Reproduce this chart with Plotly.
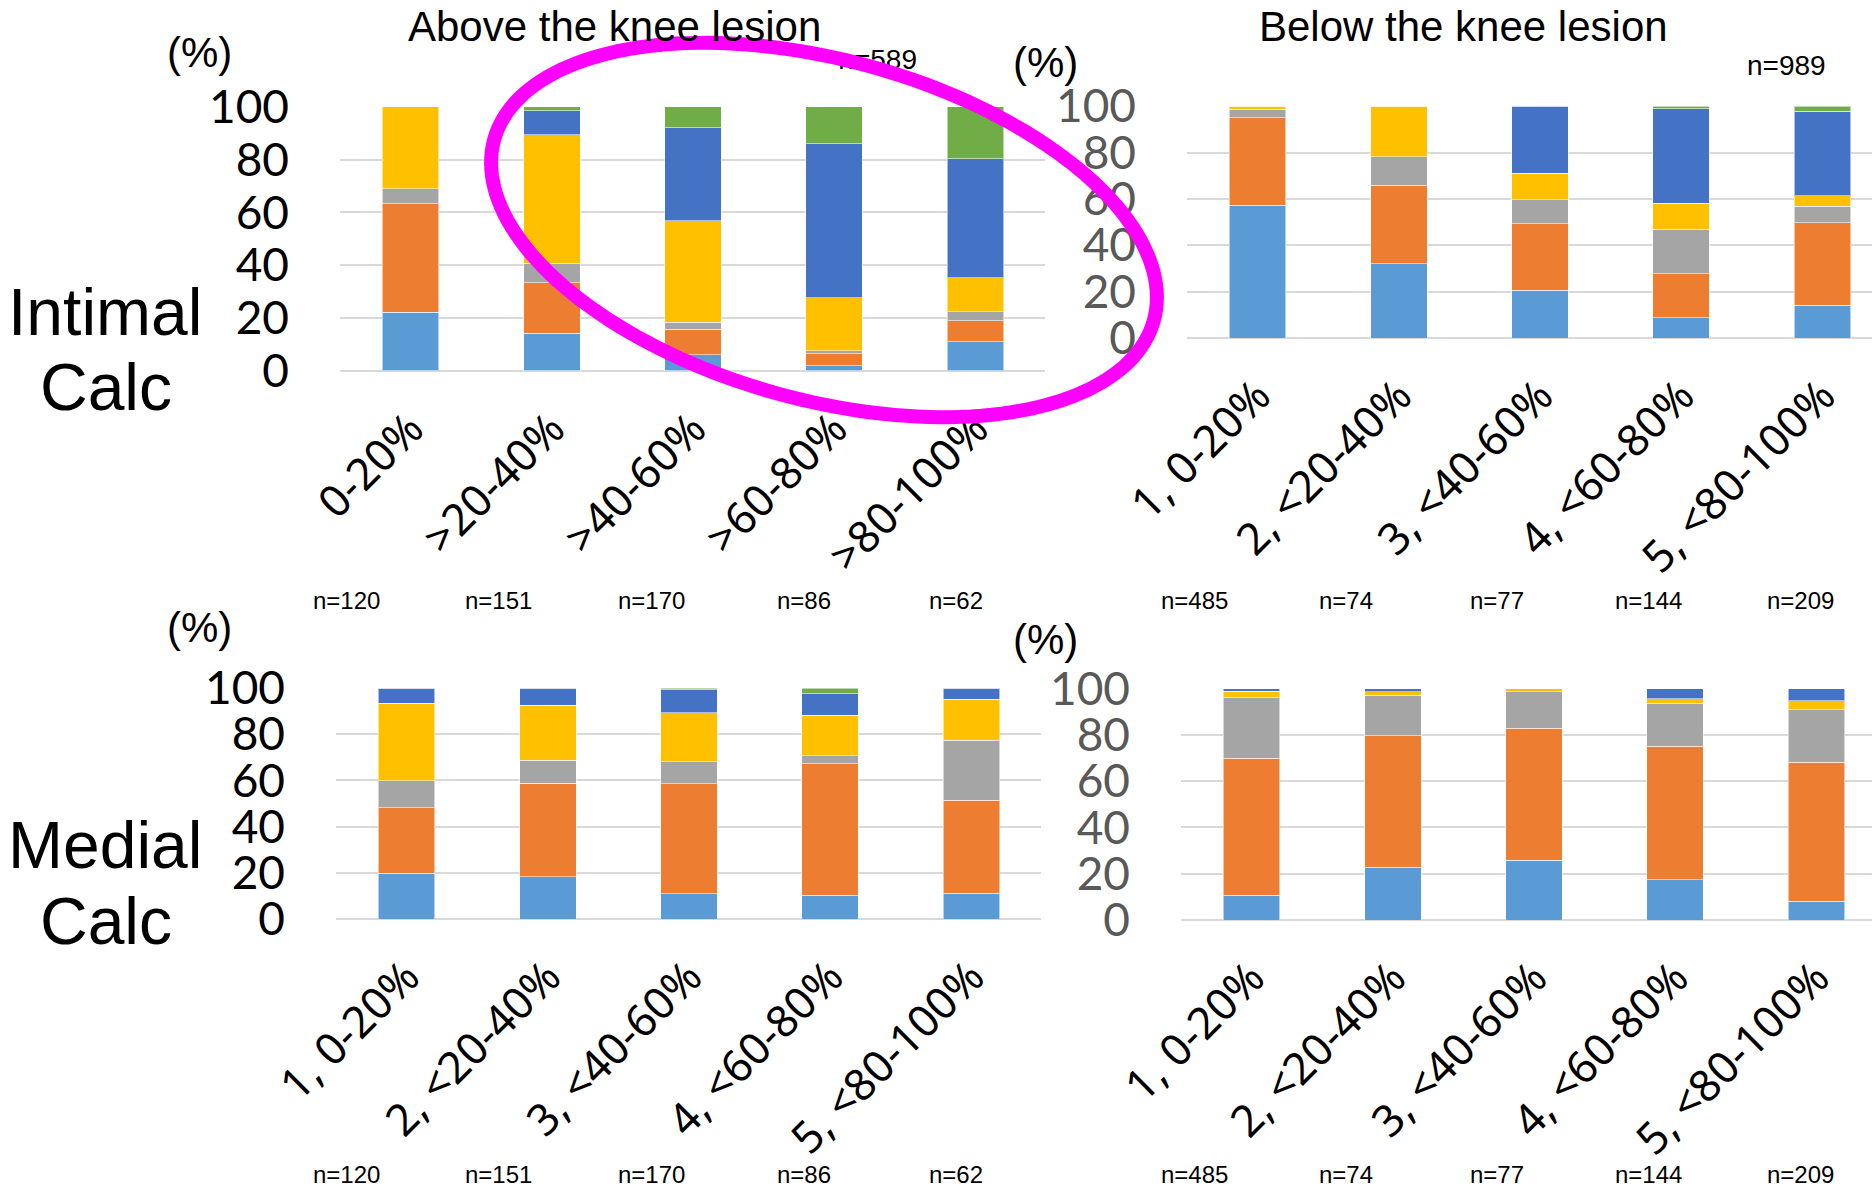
import numpy as np
import plotly.graph_objects as go

W, H = 1872, 1188

# ---------------- data ----------------
cats_atk_intimal = ["0-20%", ">20-40%", ">40-60%", ">60-80%", ">80-100%"]
cats_grade = ["1, 0-20%", "2, <20-40%", "3, <40-60%", "4, <60-80%", "5, <80-100%"]

series_names = ["Grade 0", "Grade 1", "Grade 2", "Grade 3", "Grade 4", "Grade 5"]
series_colors = ["#5B9BD5", "#ED7D31", "#A5A5A5", "#FFC000", "#4472C4", "#70AD47"]

# stacked percentages, bottom -> top (rows = series, columns = categories)
intimal_atk = [
    [22.2, 14.2, 6.1, 2.0, 11.0],
    [41.0, 19.2, 9.7, 4.6, 8.0],
    [5.8, 7.3, 2.6, 1.1, 3.4],
    [31.0, 48.6, 38.5, 20.0, 12.8],
    [0.0, 9.2, 35.2, 58.3, 45.1],
    [0.0, 1.5, 7.9, 14.0, 19.7],
]
intimal_btk = [
    [57.3, 32.1, 20.6, 8.8, 14.1],
    [37.8, 33.9, 28.7, 19.0, 35.6],
    [3.7, 12.2, 10.4, 19.2, 7.1],
    [1.2, 21.8, 11.5, 11.2, 4.7],
    [0.0, 0.0, 28.8, 40.8, 36.3],
    [0.0, 0.0, 0.0, 1.0, 2.2],
]
medial_atk = [
    [19.8, 18.3, 11.0, 10.2, 11.1],
    [28.4, 40.4, 47.6, 57.0, 40.3],
    [11.7, 10.0, 9.5, 3.5, 25.9],
    [33.5, 23.9, 21.1, 17.6, 17.8],
    [6.6, 7.4, 10.1, 9.2, 4.9],
    [0.0, 0.0, 0.7, 2.5, 0.0],
]
medial_btk = [
    [10.7, 22.8, 25.8, 17.3, 8.2],
    [59.2, 56.9, 57.1, 57.8, 60.0],
    [26.4, 17.4, 15.8, 18.6, 22.7],
    [2.7, 1.5, 1.3, 2.0, 3.9],
    [1.0, 1.4, 0.0, 4.3, 5.2],
    [0.0, 0.0, 0.0, 0.0, 0.0],
]

n_atk = [120, 151, 170, 86, 62]
n_btk = [485, 74, 77, 144, 209]
n_atk_total = 589
n_btk_total = 989

y_ticks = [0, 20, 40, 60, 80, 100]

# ---------------- helpers ----------------
def px_x(p):
    return p / W


def px_y(p):
    return 1 - p / H


def esc(s):
    return s.replace("&", "&amp;").replace("<", "&lt;").replace(">", "&gt;")


panels = [
    dict(data=intimal_atk, cats=cats_atk_intimal, xd=(340, 1045), yd=(106.7, 371), tc="#000000"),
    dict(data=intimal_btk, cats=cats_grade, xd=(1187, 1872), yd=(106.3, 338), tc="#595959"),
    dict(data=medial_atk, cats=cats_grade, xd=(336, 1041), yd=(688, 919), tc="#000000"),
    dict(data=medial_btk, cats=cats_grade, xd=(1181, 1872), yd=(688.7, 920), tc="#595959"),
]

fig = go.Figure()
layout = dict(
    width=W, height=H,
    margin=dict(l=0, r=0, t=0, b=0, pad=0, autoexpand=False),
    paper_bgcolor="white", plot_bgcolor="rgba(0,0,0,0)",
    showlegend=False, barmode="stack",
)

CAT_PX = 141.2
for i, p in enumerate(panels, start=1):
    sfx = "" if i == 1 else str(i)
    x0, x1 = p["xd"]
    xr = [-0.5, -0.5 + (x1 - x0) / CAT_PX]
    xs = list(range(len(p["cats"])))
    for k, (vals, name, col) in enumerate(zip(p["data"], series_names, series_colors)):
        fig.add_trace(go.Bar(
            x=xs, y=vals, name=name, width=0.4,
            marker=dict(color=col, line=dict(color="rgba(255,255,255,0.55)", width=1)),
            xaxis="x" + sfx, yaxis="y" + sfx,
        ))
    layout["xaxis" + sfx] = dict(
        domain=[px_x(x0), px_x(x1)], range=xr, anchor="y" + sfx,
        tickmode="array", tickvals=xs, ticktext=[esc(c) for c in p["cats"]],
        tickangle=-45, tickfont=dict(family="Noto Sans", size=44, color="#000000"),
        showgrid=False, showline=False, zeroline=False, ticks="",
        ticklabelstandoff=22, fixedrange=True, automargin=False,
    )
    layout["yaxis" + sfx] = dict(
        domain=[px_y(p["yd"][1]), px_y(p["yd"][0])], range=[0, 100], anchor="x" + sfx,
        tickmode="array", tickvals=y_ticks,
        tickfont=dict(family="Lato", size=46, color=p["tc"]),
        showgrid=True, gridcolor="#D9D9D9", gridwidth=2,
        zeroline=True, zerolinecolor="#D9D9D9", zerolinewidth=2,
        showline=False, ticks="", ticklabelstandoff=50, fixedrange=True, automargin=False,
    )

# overlay pixel-space axes for the partially covered total label
layout["xaxis5"] = dict(domain=[0, 1], range=[0, W], visible=False, anchor="y5",
                        fixedrange=True, automargin=False)
layout["yaxis5"] = dict(domain=[0, 1], range=[H, 0], visible=False, anchor="x5",
                        fixedrange=True, automargin=False)
fig.add_trace(go.Scatter(
    x=[917], y=[62], mode="text", text=[f"n={n_atk_total}"], textposition="middle left",
    textfont=dict(family="Liberation Sans", size=28, color="#000000"),
    xaxis="x5", yaxis="y5", hoverinfo="skip", cliponaxis=False,
))

fig.update_layout(**layout)

annotations = []
TXT = "Liberation Sans"


def ann(text, x, y, size, color="#000000", xanchor="center", family=TXT):
    annotations.append(dict(
        text=text, x=px_x(x), y=px_y(y), xref="paper", yref="paper",
        xanchor=xanchor, yanchor="middle", showarrow=False,
        font=dict(family=family, size=size, color=color),
    ))


ann("Above the knee lesion", 614, 27, 42)
ann("Below the knee lesion", 1463, 27, 42)
ann("(%)", 199, 52, 42)
ann("(%)", 1045, 63, 42)
ann("(%)", 199, 627, 42)
ann("(%)", 1045, 639, 42)
ann(f"n={n_btk_total}", 1786, 65, 28)
ann("Intimal", 105, 312, 66)
ann("Calc", 106, 387, 66)
ann("Medial", 105, 845, 66)
ann("Calc", 106, 921, 66)

for j, n in enumerate(n_atk):
    ann(f"n={n}", 346 + j * 152.5, 601, 24)
    ann(f"n={n}", 346 + j * 152.5, 1174, 24)
for j, n in enumerate(n_btk):
    ann(f"n={n}", 1194 + j * 151.5, 601, 24)
    ann(f"n={n}", 1194 + j * 151.5, 1174, 24)

fig.update_layout(annotations=annotations)

# magenta highlight ellipse
cx, cy, a, b, th = 824, 230, 342, 170, np.deg2rad(15.3)
t = np.linspace(0, 2 * np.pi, 181)
ex = cx + a * np.cos(t) * np.cos(th) - b * np.sin(t) * np.sin(th)
ey = cy + a * np.cos(t) * np.sin(th) + b * np.sin(t) * np.cos(th)
path = "M " + " L ".join(f"{px_x(u):.5f},{px_y(v):.5f}" for u, v in zip(ex, ey)) + " Z"
fig.add_shape(type="path", path=path, xref="paper", yref="paper",
              line=dict(color="#FF00FF", width=14), layer="above")

fig.write_html("out.html")
